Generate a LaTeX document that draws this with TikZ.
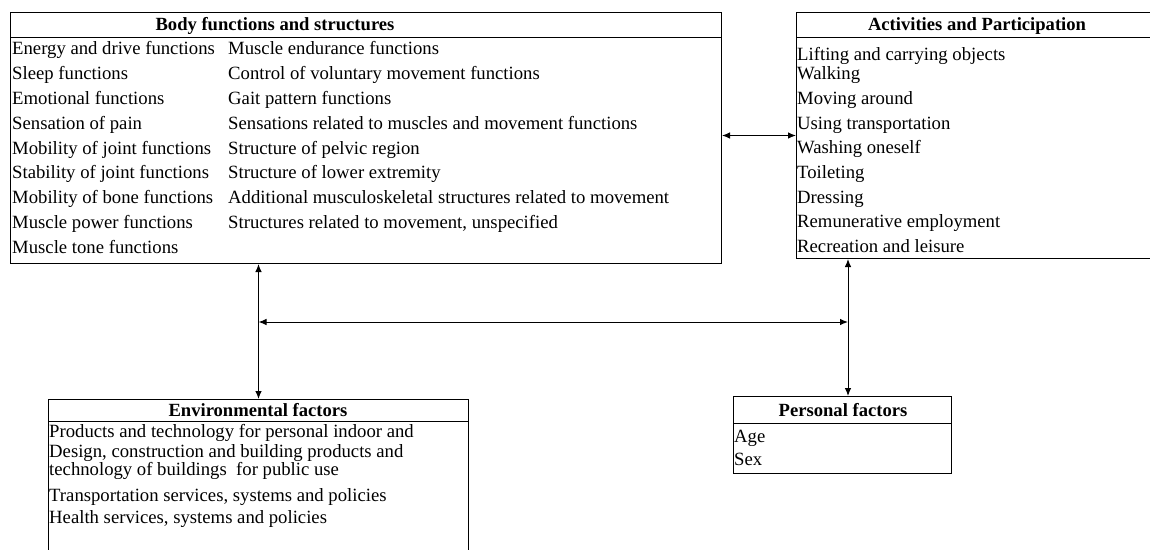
\documentclass[tikz,border=0pt]{standalone}
\usepackage{fontspec}
\setmainfont{Liberation Serif}
\usetikzlibrary{arrows.meta,positioning}
\tikzset{>={Latex[length=8pt,width=6.5pt]}}

\begin{document}
\begin{tikzpicture}[x=1pt,y=-1pt,
  box/.style={draw=black,line width=1pt,inner sep=0pt,anchor=north west},
  head/.style={anchor=base,inner sep=0pt,font=\fontsize{18.6}{20}\selectfont\bfseries},
  item/.style={anchor=base west,inner sep=0pt,font=\fontsize{18.7}{20}\selectfont}]
\useasboundingbox (0,0) rectangle (1150,549);
\clip (0,0) rectangle (1150,549);
\def\rowH {24.8}  % row distance in body box
\def\colB {228}   % x-position of second column
% body functions:
 \node[box,minimum width=711pt,minimum height=251pt] (body) at (10,12) {};
 \draw[line width=1pt] (10,37) -- (721,37);
 \node[head] (bodyT) at (275,30) {Body functions and structures};
 \foreach \txt [count=\i] in {Energy and drive functions,Sleep functions,Emotional functions,
   Sensation of pain,Mobility of joint functions,Stability of joint functions,
   Mobility of bone functions,Muscle power functions,Muscle tone functions}
   \node[item] (bl\i) at (12,30+\rowH*\i) {\txt};
 \foreach \txt [count=\i] in {Muscle endurance functions,Control of voluntary movement functions,
   Gait pattern functions,Sensations related to muscles and movement functions,
   Structure of pelvic region,Structure of lower extremity,
   Additional musculoskeletal structures related to movement,
   Structures related to movement{,} unspecified}
   \node[item] (br\i) at (\colB,30+\rowH*\i) {\txt};
% activities:
 \node[box,minimum width=370pt,minimum height=246pt] (act) at (796,12) {};
 \draw[line width=1pt] (796,37) -- (1166,37);
 \node[head] (actT) at (977,30) {Activities and Participation};
 \foreach \txt/\yy [count=\i] in {Lifting and carrying objects/60,Walking/79,Moving around/104,
   Using transportation/129,Washing oneself/153,Toileting/178,Dressing/203,
   Remunerative employment/227,Recreation and leisure/252}
   \node[item] (a\i) at (797,\yy) {\txt};
% environment:
 \node[box,minimum width=420pt,minimum height=200pt] (env) at (48,399) {};
 \draw[line width=1pt] (48,421) -- (468,421);
 \node[head] (envT) at (258,416) {Environmental factors};
 \foreach \txt/\yy [count=\i] in {Products and technology for personal indoor and/437,
   {Design, construction and building products and}/457,
   technology of buildings\ \ for public use/475,
   {Transportation services, systems and policies}/501,
   {Health services, systems and policies}/523}
   \node[item] (e\i) at (49,\yy) {\txt};
% personal:
 \node[box,minimum width=218pt,minimum height=77pt] (pers) at (733,396) {};
 \draw[line width=1pt] (733,423) -- (951,423);
 \node[head] (persT) at (843,416) {Personal factors};
 \node[item] (p1) at (734,442) {Age};
 \node[item] (p2) at (734,465) {Sex};
%% links:
 \coordinate (persTop) at (848,396);
 \coordinate (mid) at (0,322);
 \draw[<->,line width=1pt] (body.east |- act.west) -- (act.west);
 \draw[<->,line width=1pt] (env.north |- body.south) -- (env.north);
 \draw[<->,line width=1pt] (persTop |- act.south) -- (persTop);
 \draw[<->,line width=1pt] (env.north |- mid) -- (persTop |- mid);
\end{tikzpicture}
\end{document}
